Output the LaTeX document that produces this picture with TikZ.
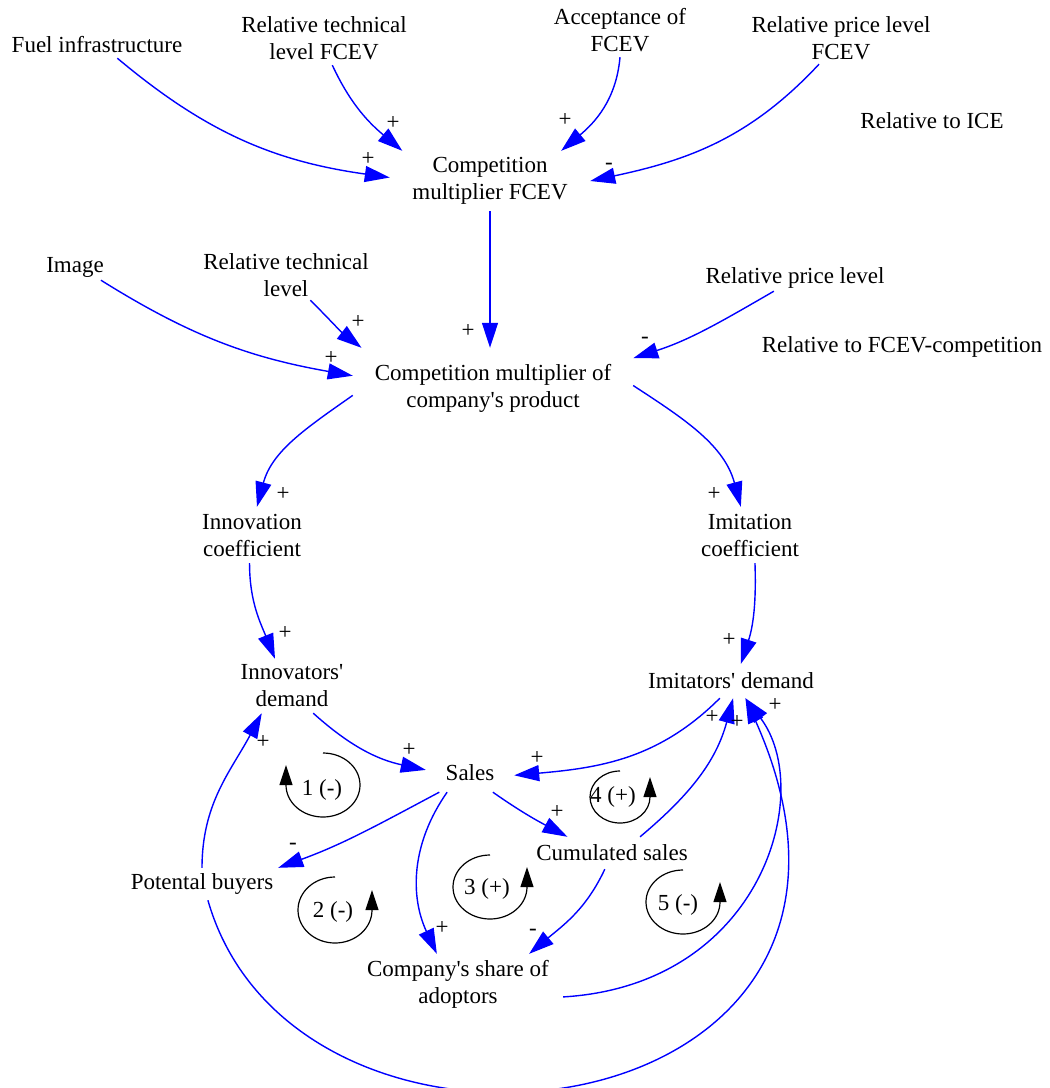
\documentclass[tikz,border=0pt]{standalone}
\usepackage{fontspec}
\setmainfont{Liberation Serif}
\usetikzlibrary{arrows.meta}
\definecolor{linkblue}{RGB}{0,0,255}
\begin{document}
\begin{tikzpicture}[x=1pt,y=1pt,
  var/.style={font=\fontsize{23}{27}\selectfont, align=center, inner sep=0pt},
  txt/.style={font=\fontsize{23}{27}\selectfont, inner sep=0pt},
  pol/.style={font=\fontsize{23}{27}\selectfont, inner sep=0pt},
  link/.style={draw=linkblue, line width=1.4pt, -{Triangle[length=25pt,width=16pt]}},
  fbloop/.style={draw=black, line width=1.2pt, -{Triangle[length=20pt,width=13pt]}}]
\fill[white] (0,0) rectangle (1050,-1088);
\useasboundingbox (0,0) rectangle (1050,-1088);

% variables
\node[var, minimum width=180, minimum height=26] (fuel) at (97,-45) {Fuel infrastructure};
\node[var, minimum width=176, minimum height=54] (rtlf) at (324,-38) {Relative technical\\level FCEV};
\node[var, minimum width=150, minimum height=54] (acc) at (620,-30) {Acceptance of\\FCEV};
\node[var, minimum width=180, minimum height=52] (rplf) at (841,-38) {Relative price level\\FCEV};
\node[txt] (rtice) at (932,-121) {Relative to ICE};
\node[var, minimum width=200, minimum height=60] (cmf) at (490,-181) {Competition\\multiplier FCEV};
\node[var, minimum width=62, minimum height=26] (image) at (75,-267) {Image};
\node[var, minimum width=170, minimum height=50] (rtl) at (286,-275) {Relative technical\\level};
\node[var, minimum width=190, minimum height=26] (rpl) at (795,-278) {Relative price level};
\node[txt] (rtfc) at (902,-347) {Relative to FCEV-competition};
\node[var, minimum width=280, minimum height=80] (cmcp) at (493,-388) {Competition multiplier of\\company\textquotesingle s product};
\node[var, minimum width=120, minimum height=56] (innc) at (252,-535) {Innovation\\coefficient};
\node[var, minimum width=120, minimum height=56] (imc) at (750,-535) {Imitation\\coefficient};
\node[var, minimum width=120, minimum height=54] (innd) at (292,-686) {Innovators\textquotesingle\\demand};
\node[var, minimum width=160, minimum height=34] (imd) at (731,-681) {Imitators\textquotesingle{} demand};
\node[var, minimum width=88, minimum height=38] (sales) at (470,-773) {Sales};
\node[var, minimum width=152, minimum height=32] (pb) at (202,-884) {Potental buyers};
\node[var, minimum width=156, minimum height=32] (cum) at (612,-853) {Cumulated sales};
\node[var, minimum width=210, minimum height=60] (share) at (458,-984) {Company\textquotesingle s share of\\adoptors};

% causal links
\draw[link] (fuel.-33) to[out=-40,in=172] (cmf.178);
\draw[link] (rtlf.-73) to[out=-65,in=140] (cmf.161);
\draw[link] (acc.south) to[out=-95,in=40] (cmf.23);
\draw[link] (rplf.-130) to[out=-133,in=12] (cmf.0);
\draw[link] (cmf.south) -- (cmf.south |- cmcp.north);
\draw[link] (image.-27) to[out=-32,in=170] (cmcp.175);
\draw[link] (rtl.-46) to[out=-45,in=142] (cmcp.163);
\draw[link] (rpl.-148) to[out=-150,in=18] (cmcp.12);
\draw[link] (cmcp.183) to[out=-145,in=75] (innc.80);
\draw[link] (cmcp.1) to[out=-33,in=105] (imc.108);
\draw[link] (innc.-95) to[out=-90,in=112] (innd.122);
\draw[link] (imc.-80) to[out=-88,in=72] (imd.60);
\draw[link] (innd.-52) to[out=-42,in=168] (sales.176);
\draw[link] (imd.-123) to[out=-135,in=5] (sales.-3);
\draw[link] (sales.-148) to[out=-152,in=20] (pb.12);
\draw[link] (sales.-140) to[out=-125,in=115] (share.125);
\draw[link] (sales.-40) to[out=-35,in=152] (cum.160);
\draw[link] (cum.30) to[out=40,in=-105] (imd.-83);
\draw[link] (cum.-114) to[out=-115,in=40] (share.23);
\draw[link] (pb.north) to[out=90,in=-118] (innd.-138);
\draw[link] (pb.-70) .. controls +(90,-315) and +(195,-437) .. (imd.-50);
\draw[link] (share.-7) .. controls +(200,12) and +(70,-92) .. (imd.-50);

% polarities
\node[pol] (p1) at (368,-159) {+};
\node[pol] (p2) at (393,-123) {+};
\node[pol] (p3) at (565,-120) {+};
\node[pol] (p4) at (609,-166) {-};
\node[pol] (p5) at (468,-331) {+};
\node[pol] (p6) at (331,-358) {+};
\node[pol] (p7) at (358,-322) {+};
\node[pol] (p8) at (645,-340) {-};
\node[pol] (p9) at (283,-494) {+};
\node[pol] (p10) at (714,-494) {+};
\node[pol] (p11) at (285,-633) {+};
\node[pol] (p12) at (729,-640) {+};
\node[pol] (p13) at (409,-750) {+};
\node[pol] (p14) at (537,-758) {+};
\node[pol] (p15) at (293,-846) {-};
\node[pol] (p16) at (442,-928) {+};
\node[pol] (p17) at (557,-812) {+};
\node[pol] (p18) at (712,-717) {+};
\node[pol] (p19) at (533,-932) {-};
\node[pol] (p20) at (263,-742) {+};
\node[pol] (p21) at (775,-705) {+};
\node[pol] (p22) at (737,-722) {+};

% loop markers
\draw[fbloop] (323,-753) arc[start angle=90, end angle=-180, x radius=37, y radius=32] -- ++(0,20);
\draw[fbloop] (335,-877) arc[start angle=90, end angle=360, x radius=37, y radius=33] -- ++(0,20);
\draw[fbloop] (490,-855) arc[start angle=90, end angle=360, x radius=37, y radius=32] -- ++(0,20);
\draw[fbloop] (620,-771) arc[start angle=90, end angle=360, x radius=30, y radius=26] -- ++(0,20);
\draw[fbloop] (683,-870) arc[start angle=90, end angle=360, x radius=37, y radius=32] -- ++(0,20);
\node[txt] (l1) at (322,-790) {1 (-)};
\node[txt] (l2) at (333,-912) {2 (-)};
\node[txt] (l3) at (487,-889) {3 (+)};
\node[txt] (l4) at (613,-797) {4 (+)};
\node[txt] (l5) at (678,-905) {5 (-)};
\end{tikzpicture}
\end{document}
